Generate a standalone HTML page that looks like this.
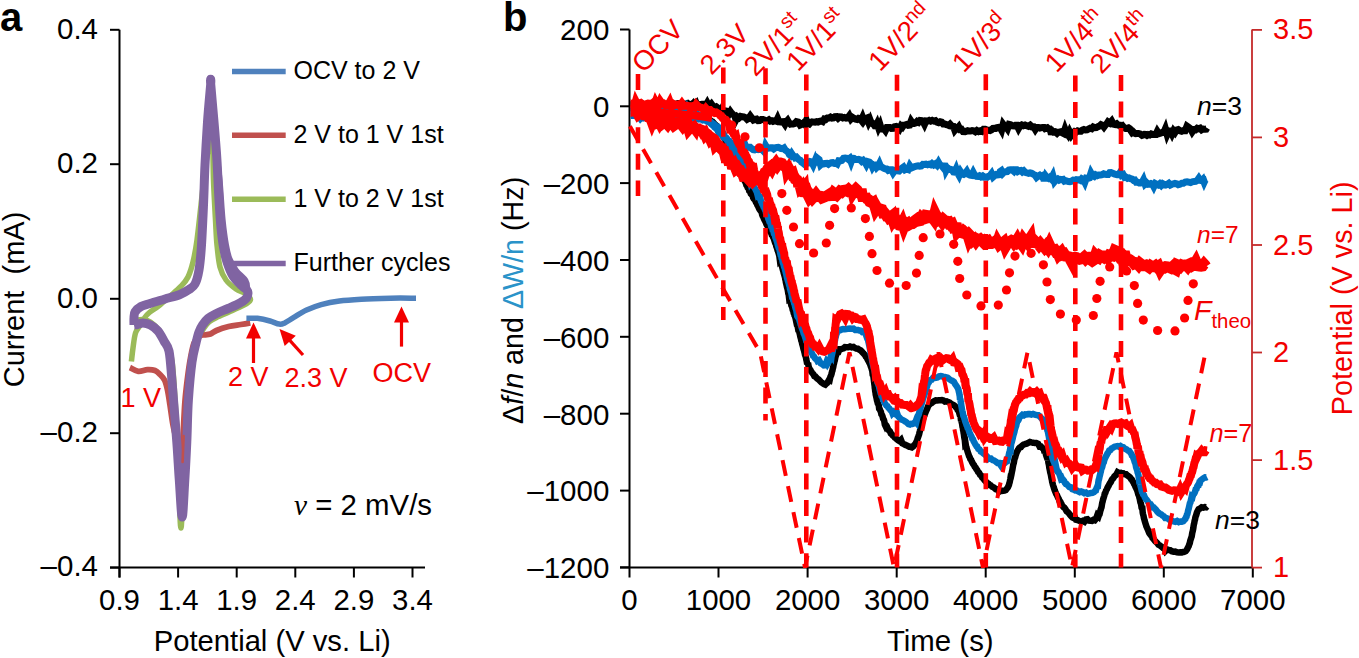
<!DOCTYPE html><html><head><meta charset="utf-8"><style>html,body{margin:0;padding:0;background:#fff;overflow:hidden}svg{display:block}</style></head><body>
<svg width="1359" height="658" viewBox="0 0 1359 658" font-family="'Liberation Sans', sans-serif">
<rect width="100%" height="100%" fill="#fff"/>
<text x="0" y="31" font-size="40" font-weight="bold">a</text>
<g stroke="#000" stroke-width="2" fill="none">
<path d="M119.5 29.8V577.5"/>
<path d="M110 567.6H425"/>
<path d="M110 29.8H119.5"/>
<path d="M110 164.2H119.5"/>
<path d="M110 298.8H119.5"/>
<path d="M110 433.2H119.5"/>
<path d="M110 567.6H119.5"/>
<path d="M119.5 567.6V577.5"/>
<path d="M178.1 567.6V577.5"/>
<path d="M236.7 567.6V577.5"/>
<path d="M295.3 567.6V577.5"/>
<path d="M353.9 567.6V577.5"/>
<path d="M412.5 567.6V577.5"/>
</g>
<g font-size="29.5" text-anchor="end">
<text x="98" y="38.6">0.4</text>
<text x="98" y="173">0.2</text>
<text x="98" y="307.6">0.0</text>
<text x="98" y="442">–0.2</text>
<text x="98" y="576.4">–0.4</text>
</g>
<g font-size="29.4" text-anchor="middle">
<text x="119.5" y="609.5">0.9</text>
<text x="178.1" y="609.5">1.4</text>
<text x="236.7" y="609.5">1.9</text>
<text x="295.3" y="609.5">2.4</text>
<text x="353.9" y="609.5">2.9</text>
<text x="412.5" y="609.5">3.4</text>
</g>
<text x="272.2" y="651.3" font-size="29.2" text-anchor="middle">Potential (V vs. Li)</text>
<text transform="translate(24,299.5) rotate(-90)" font-size="29" text-anchor="middle" style="white-space:pre">Current  (mA)</text>
<g fill="none" stroke-linejoin="round" stroke-linecap="butt">
<path d="M131.4 361.5C131.7 359.2 132.3 352.8 133 348C133.7 343.2 134.3 336.8 135.5 333C136.7 329.2 138.4 328.1 140 325.5C141.6 322.9 143.2 319.7 144.8 317.5C146.4 315.3 147.1 314.4 149.4 312.5C151.7 310.6 155 308.8 158.5 306C162 303.2 166.5 299.2 170.2 296C173.9 292.8 177.8 289.7 180.8 286.5C183.8 283.3 186 281.1 188 277C190 272.9 191.5 268.2 193 262C194.5 255.8 195.7 249.5 197 240C198.3 230.5 199.7 216.7 201 205C202.3 193.3 203.8 179.5 205 170C206.2 160.5 207.4 153.2 208.5 148C209.6 142.8 210.8 138.7 211.5 139C212.2 139.3 212.5 143.2 212.8 150C213.1 156.8 213.1 168.3 213.5 180C213.9 191.7 214.9 209.2 215.5 220C216.1 230.8 216.2 237.2 217 245C217.8 252.8 218.5 261.2 220 267C221.5 272.8 223.3 276.3 226 280C228.7 283.7 232.7 286.7 236 289C239.3 291.3 243.6 292.2 246 294C248.4 295.8 250.5 297.8 250.5 299.5C250.5 301.2 247.8 302.8 246 304C244.2 305.2 243 305.6 240 307C237 308.4 231.9 310.8 228 312.5C224.1 314.2 219.7 315.9 216.5 317.5C213.3 319.1 211.1 320.2 209 322C206.9 323.8 205.5 325.8 204 328C202.5 330.2 201.2 332.5 200 335C198.8 337.5 197.8 338.5 196.5 343C195.2 347.5 193.4 350 192 362C190.6 374 189.2 397 188 415C186.8 433 185.5 453.2 184.5 470C183.5 486.8 182.6 506.3 182 516C181.4 525.7 181.3 528 181 528C180.7 528 180.3 525.7 180 516C179.7 506.3 179.7 486.8 179 470C178.3 453.2 177.1 432.5 176 415C174.9 397.5 173.7 375.8 172.5 365C171.3 354.2 170.4 354.3 169 350C167.6 345.7 165.8 342.5 164 339C162.2 335.5 160.3 331.8 158 329C155.7 326.2 152.9 323.6 150.4 322C147.9 320.4 145.3 319.8 142.8 319.5C140.3 319.2 136.5 320.3 135.2 320.5" stroke="#9BBB59" stroke-width="5.5"/>
<path d="M250.3 322.8C248.7 323.1 244.4 323.9 240.8 324.5C237.2 325.1 232.7 325.5 228.6 326.5C224.5 327.5 219.5 329.2 216.5 330.5C213.5 331.8 212.6 333.2 210.4 334C208.2 334.8 204.9 334.7 203.1 335C201.3 335.3 201 334.7 199.5 336C198 337.3 195.5 339.3 194 343C192.5 346.7 191.6 352.2 190.5 358C189.4 363.8 188.4 370.8 187.5 378C186.6 385.2 185.7 392.3 185 401C184.3 409.7 183.8 421.8 183.4 430C183 438.2 182.6 445.2 182.3 450C182 454.8 182 458.7 181.5 459C181 459.3 180.3 455.2 179.5 452C178.7 448.8 177.6 444.5 176.5 440C175.4 435.5 174.1 430.8 173 425C171.9 419.2 170.9 410.8 170 405C169.1 399.2 168.4 394.2 167.5 390C166.6 385.8 165.8 382.6 164.5 380C163.2 377.4 161.6 376.1 160 374.5C158.4 372.9 157.1 371.3 155 370.5C152.9 369.7 150.2 369.6 147.4 369.7C144.6 369.8 141.2 371.7 138.3 371.3C135.4 370.9 131.3 368.1 129.9 367.5" stroke="#C0504D" stroke-width="5.8"/>
<path d="M134 325C134 323.8 133.8 320.2 134 318C134.2 315.8 133.8 313.9 135 312C136.2 310.1 138.5 307.9 141 306.5C143.5 305.1 146 304.8 150 303.5C154 302.2 160 300.5 165 299C170 297.5 176 296.1 180 294.5C184 292.9 186.5 291.2 189 289.5C191.5 287.8 193.3 287.2 195 284C196.7 280.8 197.9 276.5 199 270C200.1 263.5 200.8 255.8 201.5 245C202.2 234.2 202.9 218.3 203.5 205C204.1 191.7 204.3 178.8 205 165C205.7 151.2 206.6 135.5 207.5 122C208.4 108.5 210.2 90.3 210.7 84C211.2 77.7 210.1 77.7 210.7 84C211.2 90.3 212.9 109.2 214 122C215.1 134.8 216.2 148 217 161C217.8 174 218.3 188.8 219 200C219.7 211.2 220.2 220.2 221 228C221.8 235.8 222.5 241.3 223.5 247C224.5 252.7 225.4 257.2 227 262C228.6 266.8 230.5 272 233 276C235.5 280 239.6 283.5 242 286C244.4 288.5 246.8 289 247.5 291C248.2 293 247.8 296 246.5 298C245.2 300 243.1 301.2 240 303C236.9 304.8 231.9 306.8 228 308.5C224.1 310.2 219.8 311.8 216.5 313.5C213.2 315.2 210.3 316.6 208 318.5C205.7 320.4 204 322.8 202.5 325C201 327.2 200.1 329 199 332C197.9 335 197.2 338 196 343C194.8 348 193.3 352.5 192 362C190.7 371.5 189.3 386.7 188.4 400C187.5 413.3 187.4 428.7 186.8 442C186.2 455.3 185.6 467.5 184.8 480C184 492.5 183.1 517 182.2 517C181.3 517 180.2 492.5 179.3 480C178.4 467.5 177.8 455.3 176.8 442C175.8 428.7 174.4 411.2 173.5 400C172.6 388.8 172.2 383.2 171.5 375C170.8 366.8 170.2 356.7 169 351C167.8 345.3 165.8 344.3 164 341C162.2 337.7 160.3 333.7 158 331C155.7 328.3 152.9 326.3 150.4 325C147.9 323.7 145.2 323.1 143 323C140.8 322.9 139 324.2 137.5 324.5C136 324.8 134.6 324.9 134 325" stroke="#8064A2" stroke-width="9"/>
<path d="M216 150C216.6 155 218.5 168.4 219.6 180C220.7 191.6 221.5 208.7 222.6 219.5C223.7 230.3 224.8 238.4 226 245C227.2 251.6 227.8 254.8 229.5 259C231.2 263.2 233.3 266.9 236 270.5C238.7 274.1 243.6 277.4 245.5 280.5C247.4 283.6 247 287.6 247.3 289" stroke="#8064A2" stroke-width="6"/>
<path d="M246.4 318.3C248.2 318.3 253.5 317.9 257.4 318.3C261.3 318.8 266.4 320 270 321C273.6 322 276.9 323.8 279.3 324.1C281.8 324.4 282.3 324 284.7 322.9C287.1 321.8 290.1 319.5 293.8 317.4C297.5 315.2 302 312.1 306.6 310C311.2 307.9 315.7 306.1 321.2 304.6C326.7 303.1 332.7 301.9 339.4 301C346.1 300.1 352.8 299.7 361.3 299.2C369.8 298.7 381.4 298.4 390.5 298.2C399.6 298 411.8 298.2 416 298.2" stroke="#4F81BD" stroke-width="5.5"/>
<path d="M183.6 436 L182.6 462" stroke="#C0504D" stroke-width="2.6" stroke-linecap="round"/>
</g>
<g stroke-width="5.5">
<path d="M232 71.4H285.7" stroke="#4F81BD"/>
<path d="M232 135.2H285.7" stroke="#C0504D"/>
<path d="M232 199.3H285.7" stroke="#9BBB59"/>
<path d="M232 263.6H285.7" stroke="#8064A2"/>
</g>
<g font-size="25">
<text x="293.5" y="79">OCV to 2 V</text>
<text x="293.5" y="142.8">2 V to 1 V 1st</text>
<text x="293.5" y="206.9">1 V to 2 V 1st</text>
<text x="293.5" y="271.2">Further cycles</text>
</g>
<path d="M253.5 363L253.5 336.5" stroke="#f20000" stroke-width="3.2"/><path d="M253.5 322.5L261 338.5L246 338.5Z" fill="#f20000"/>
<path d="M303 355L288.9 339.4" stroke="#f20000" stroke-width="3.2"/><path d="M279.5 329L295.8 335.8L284.7 345.9Z" fill="#f20000"/>
<path d="M401.5 346.6L401.5 320.5" stroke="#f20000" stroke-width="3.2"/><path d="M401.5 306.5L409 322.5L394 322.5Z" fill="#f20000"/>
<g fill="#f20000" font-size="27">
<text x="120.5" y="407.3">1 V</text>
<text x="228" y="385.6">2 V</text>
<text x="284.5" y="386.5">2.3 V</text>
<text x="372.5" y="381.5">OCV</text>
</g>
<text x="294" y="515" font-size="29.4"><tspan font-family="'Liberation Serif', serif" font-style="italic">ν</tspan> = 2 mV/s</text>
<text x="503" y="30.8" font-size="40" font-weight="bold">b</text>
<g stroke="#000" stroke-width="2" fill="none">
<path d="M629.5 29.5V567.6"/>
<path d="M620 567.6H1252"/>
<path d="M620 29.5H629.5"/>
<path d="M620 106.3H629.5"/>
<path d="M620 183.1H629.5"/>
<path d="M620 260H629.5"/>
<path d="M620 336.8H629.5"/>
<path d="M620 413.7H629.5"/>
<path d="M620 490.6H629.5"/>
<path d="M620 567.4H629.5"/>
<path d="M629.5 567.6V577.5"/>
<path d="M718.5 567.6V577.5"/>
<path d="M807.6 567.6V577.5"/>
<path d="M896.7 567.6V577.5"/>
<path d="M985.7 567.6V577.5"/>
<path d="M1074.8 567.6V577.5"/>
<path d="M1163.8 567.6V577.5"/>
<path d="M1252.8 567.6V577.5"/>
</g>
<g stroke="#c42a2a" stroke-width="1.8" fill="none">
<path d="M1252 29.5V567.6"/>
<path d="M1252 567.6H1262"/>
<path d="M1252 460.1H1262"/>
<path d="M1252 352.5H1262"/>
<path d="M1252 245H1262"/>
<path d="M1252 137.4H1262"/>
<path d="M1252 29.9H1262"/>
</g>
<g font-size="29.5" text-anchor="end">
<text x="609.3" y="40.2">200</text>
<text x="609.3" y="117.1">0</text>
<text x="609.3" y="193.9">–200</text>
<text x="609.3" y="270.8">–400</text>
<text x="609.3" y="347.6">–600</text>
<text x="609.3" y="424.5">–800</text>
<text x="609.3" y="501.4">–1000</text>
<text x="609.3" y="578.2">–1200</text>
</g>
<g font-size="29.4" text-anchor="middle">
<text x="629.5" y="609.8">0</text>
<text x="718.5" y="609.8">1000</text>
<text x="807.6" y="609.8">2000</text>
<text x="896.7" y="609.8">3000</text>
<text x="985.7" y="609.8">4000</text>
<text x="1074.8" y="609.8">5000</text>
<text x="1163.8" y="609.8">6000</text>
<text x="1252.8" y="609.8">7000</text>
</g>
<g font-size="29" fill="#f20000">
<text x="1273" y="577.1">1</text>
<text x="1273" y="469.6">1.5</text>
<text x="1273" y="362">2</text>
<text x="1273" y="254.5">2.5</text>
<text x="1273" y="146.9">3</text>
<text x="1273" y="39.4">3.5</text>
</g>
<text x="940.3" y="651" font-size="29.4" text-anchor="middle">Time (s)</text>
<text transform="translate(1352,298.3) rotate(-90)" font-size="28.8" fill="#f20000" text-anchor="middle">Potential (V vs. Li)</text>
<text transform="translate(523,300.4) rotate(-90)" font-size="28.7" text-anchor="middle">Δ<tspan font-style="italic">f</tspan>/<tspan font-style="italic">n</tspan> and <tspan fill="#2a93c9">ΔW/n</tspan> (Hz)</text>
<defs><clipPath id="cb"><rect x="630.5" y="0" width="640" height="567"/></clipPath></defs>
<g fill="none" stroke-linejoin="miter" stroke-miterlimit="3" clip-path="url(#cb)">
<path d="M630 107.8 L630.8 108.2 L631.7 108.1 L632.8 107.6 L633.9 107.7 L635.1 107.7 L636.5 108.1 L637.8 107.8 L639.3 108.4 L640.8 108.4 L642.4 107.2 L644.1 108 L645.8 108.2 L647.5 108.1 L649.3 108.6 L651 108.6 L652.8 108.2 L654.7 108.8 L656.5 108.5 L658.3 108.7 L660.1 109.1 L661.9 108.6 L663.7 109 L665.5 109.3 L667.2 109.6 L668.9 109.1 L670.5 108.9 L672.1 108.9 L673.6 109.7 L675 109.9 L676.4 109.9 L677.7 109.8 L678.9 110.2 L680 110 L682.5 109.9 L684.8 110.8 L686.8 111.4 L688.5 111.4 L690.1 111.4 L691.5 112.1 L692.8 112.4 L694 113 L695.2 113.8 L696.3 114 L697.5 115 L698.7 115.8 L700 115.8 L701.6 116.5 L703.1 117.6 L704.5 117.4 L705.9 117.9 L707.3 118.9 L708.6 118.9 L709.9 119.9 L711.2 121.3 L712.5 121.7 L713.7 123 L715 124.4 L715.9 125.3 L716.8 125.9 L717.6 126.8 L718.5 128 L719.4 129.5 L720.2 131 L721.1 132.1 L721.9 133.7 L722.8 135.1 L723.6 137.1 L724.4 138.2 L725.1 139.7 L725.9 141.6 L726.6 142.5 L727.3 143.4 L728 144.8 L728.9 146.9 L729.7 147.5 L730.5 149.3 L731.2 152.9 L731.8 152 L732.4 152.5 L733.1 153.7 L733.7 155.3 L734.4 156.5 L735.2 158.6 L736 160.4 L736.5 161.5 L737.1 162.2 L737.7 161.4 L738.2 165.1 L738.8 166.7 L739.4 168.4 L740.1 169.4 L740.7 170.7 L741.3 172.7 L741.9 174.2 L742.6 178.2 L743.2 177 L743.9 179.3 L744.5 180.7 L745.1 181.6 L745.8 183.1 L746.4 185.2 L747 185.9 L747.7 187.7 L748.5 188.6 L749.2 190.8 L750 191.5 L750.8 193.7 L751.5 194.4 L752.3 193.6 L753.1 197.6 L753.8 198.9 L754.6 199.5 L755.3 200.8 L756 202.4 L756.7 203.4 L757.4 205.2 L758 206 L758.8 207.9 L759.5 209.4 L760.2 210.4 L760.9 211.3 L761.5 211.4 L762.1 214.5 L762.7 216 L763.4 217.3 L764 219 L764.6 220.1 L765.3 221.3 L766 223 L766.6 224.5 L767.2 225.5 L767.9 226.8 L768.5 228.2 L769.2 229.3 L769.8 231 L770.5 232.2 L771.2 232.9 L771.8 234.9 L772.5 235.5 L773.1 237.2 L773.8 238.5 L774.4 240.5 L775 242.4 L775.4 243.5 L775.9 244.2 L776.3 246.4 L776.8 247.7 L777.2 248.7 L777.6 250.4 L778.1 251.5 L778.5 252.9 L778.9 254.4 L779.3 255.6 L779.8 259.4 L780.2 258.9 L780.6 260.3 L781 262 L781.4 263.4 L781.8 265.8 L782.2 267.2 L782.6 268.8 L783 270.4 L783.4 271.5 L783.7 273 L784.1 274.3 L784.5 275.7 L784.8 275.1 L785.2 278.8 L785.6 280.3 L785.9 282.3 L786.3 284 L786.6 285.3 L787 287.1 L787.3 288.2 L787.7 289.7 L788 291.5 L788.3 293.4 L788.7 294.6 L789 297.2 L789.3 296.9 L789.7 299.2 L790 299.7 L790.5 302 L791 303.7 L791.4 305.5 L791.9 306.4 L792.3 307.7 L792.7 309.8 L793.2 310.4 L793.6 312.6 L794.1 313 L794.5 315.4 L795 316.1 L795.5 318.1 L796 320.5 L796.4 320.1 L796.7 322.7 L797.1 324.6 L797.5 325.7 L797.9 327.7 L798.3 330 L798.8 330.2 L799.2 331.8 L799.6 333.3 L800 335 L800.4 336.9 L800.9 338.7 L801.3 340.7 L801.7 341.5 L802.1 343.6 L802.5 345.1 L802.9 346.3 L803.2 347.8 L803.6 349.3 L804.1 350.9 L804.6 352.8 L805 354.8 L805.5 356.1 L805.9 357.2 L806.3 359.6 L806.7 361.3 L807.2 364.3 L807.6 363.5 L808 362.7 L808.5 365.8 L809 367.8 L809.5 368.7 L810.4 370 L811.3 371.7 L812.3 373 L813.3 374.2 L814.3 376 L815.4 376.4 L816.4 377.7 L817.4 378.6 L818.7 379.5 L820.1 381.1 L821.5 382.5 L822.8 383.3 L824.1 384.2 L825.3 384.7 L826.2 383.8 L827.1 383.1 L828 381.6 L828.8 380.2 L829.6 380.5 L830.4 376.8 L831.2 375.1 L831.6 373.8 L832 371.6 L832.4 370.7 L832.8 368.7 L833.2 367.2 L833.6 364.9 L834 363.5 L834.4 361.6 L834.8 360.5 L835.2 358.2 L835.6 356.7 L836.1 355 L836.5 353.9 L837 352.9 L838.2 352.4 L839.5 349.3 L840.8 349.3 L842.2 348.8 L843.6 348.3 L845 347.1 L846.6 347.2 L848.3 347.3 L850 346.6 L851.7 347.3 L853.5 347 L854.9 347.9 L856.3 348.5 L857.8 348.7 L859.3 349.8 L860.8 350.5 L862.2 352 L863.6 353.6 L864.4 354.4 L865.1 355.2 L865.9 356.7 L866.7 357.5 L867.4 359.1 L868.1 360.4 L868.8 361.6 L869.5 363.2 L870.2 364.5 L870.8 366.3 L871.4 367.9 L872 370.1 L872.3 371.1 L872.6 373.9 L872.9 374 L873.1 375 L873.4 376.6 L873.6 378 L873.8 379.7 L874 381.5 L874.2 383.1 L874.4 384.5 L874.6 385.8 L874.8 388 L875 389.1 L875.2 391.1 L875.5 392.4 L875.7 394.4 L876 395.6 L876.3 397 L876.6 398.3 L877 400.5 L877.4 401.8 L877.8 403.4 L878.3 404.2 L878.8 405.6 L879.3 410.2 L879.8 409.4 L880.3 410.7 L880.9 411.9 L881.4 414.3 L882 415.1 L882.5 416.3 L883.1 418.8 L883.7 419.5 L884.2 420.8 L884.8 424.5 L885.4 425.8 L885.9 425 L886.5 425.7 L887 426.9 L888 429 L888.9 430.3 L889.9 431.3 L890.8 433.4 L891.8 434.2 L892.8 435.5 L893.8 436.1 L894.8 437.5 L895.9 438.2 L897 439.4 L898.2 440.4 L899.6 441.2 L901 439.9 L902.4 443.4 L903.9 444.1 L905.4 444.9 L906.8 445.4 L908.1 446.1 L909.3 446.8 L910.4 446.8 L911.9 447.3 L913.1 446.5 L914.1 445.3 L915 444.4 L916 442.8 L917 440.4 L917.4 439.3 L917.8 437.9 L918.3 436.7 L918.7 435.5 L919.1 434.3 L919.5 432.6 L919.9 431 L920.3 429.1 L920.8 427.8 L921.2 425.5 L921.6 424.3 L922 422.4 L922.4 420.6 L922.9 419.8 L923.3 418 L923.7 417.1 L924.4 415.5 L925.1 413.5 L925.8 411.7 L926.5 410.1 L927.2 408.8 L927.9 406.7 L928.7 405.3 L929.5 404.5 L930.4 403.4 L931.6 403 L932.9 402 L934.3 401.1 L935.8 400.3 L937.3 400.5 L938.9 400.3 L940.5 400.2 L941.9 400 L943.4 400.4 L944.9 401.6 L946.6 401.3 L948.2 402.1 L949.7 402.6 L951.2 403.9 L952.6 404.7 L953.8 405.1 L955 406 L955.9 407.2 L956.8 408 L957.6 409.8 L958.3 410.3 L959 412.1 L959.7 414.6 L960.5 415.1 L960.8 418.4 L961.1 421.2 L961.4 420.1 L961.7 422.3 L962 423 L962.2 424.6 L962.5 426.8 L962.8 427.7 L963.1 430 L963.4 431.1 L963.6 432.8 L963.9 434.5 L964.2 437.1 L964.5 438.7 L964.8 440 L965.1 443.3 L965.5 442.9 L965.8 444.8 L966.1 446.6 L966.5 447.5 L966.8 449.1 L967.2 450.3 L967.8 452.2 L968.4 454 L969.1 456.1 L969.7 457.2 L970.4 459.1 L971.1 459.8 L971.8 461.6 L972.5 462.9 L973.2 464.2 L974 465.1 L974.8 466.9 L975.6 467.6 L976.4 469.1 L977.2 470.1 L978.1 471.9 L979.1 472.8 L980.1 474.8 L981.1 475.5 L982.2 477.6 L983.2 478.3 L984.3 480 L985.4 481.1 L986.4 482.2 L987.5 483.2 L988.6 483.8 L989.6 485.1 L990.6 485.3 L992.2 486.8 L993.9 487.5 L995.6 489 L997.3 489.1 L998.9 491.8 L1000.4 490.6 L1001.8 490.9 L1003 490.7 L1004.6 490.5 L1005.8 490.1 L1006.9 488.6 L1007.9 487.3 L1009 484.7 L1009.3 483.3 L1009.7 482.2 L1010 480.5 L1010.3 479.1 L1010.7 476.6 L1011 476.6 L1011.4 474.7 L1011.7 472.9 L1012 471.6 L1012.4 469.7 L1012.7 467.8 L1013.1 465.5 L1013.4 464.1 L1013.8 462.9 L1014.1 461.2 L1014.5 459 L1014.8 458.3 L1015.2 457.2 L1015.5 456 L1016.4 453.3 L1017.3 451.1 L1018.1 449.9 L1019 448.3 L1019.9 447.4 L1020.9 447.1 L1022 445.7 L1023.4 444.6 L1024.9 444.2 L1026.6 443.7 L1028.2 442.8 L1029.9 442 L1031.5 442.4 L1033.1 442.7 L1034.8 443.1 L1036.4 443 L1038.1 443.7 L1039.6 446.6 L1041 446.5 L1041.8 447.4 L1042.6 448.2 L1043.4 448.8 L1044.1 450.4 L1044.7 453 L1045.4 451.4 L1046 454.7 L1046.7 456.9 L1047.4 458.8 L1047.7 460 L1048.1 458.9 L1048.4 462.7 L1048.7 463.8 L1049 465.4 L1049.3 467.7 L1049.6 469.1 L1049.9 470.5 L1050.2 472.2 L1050.6 473.7 L1050.9 474.9 L1051.2 476.6 L1051.5 478.4 L1051.9 480 L1052.2 482.1 L1052.6 483.4 L1053 485.1 L1053.4 486.2 L1053.8 487.6 L1054.4 489.4 L1055 491.1 L1055.6 492.5 L1056.2 493.9 L1056.9 495 L1057.5 496.5 L1058.2 497.9 L1058.9 499.1 L1059.6 501.2 L1060.3 501.7 L1061.1 503.3 L1061.8 504.6 L1062.6 506 L1063.4 507.1 L1064.4 507.7 L1065.5 509.2 L1066.6 511.3 L1067.7 512 L1068.9 513.3 L1070.1 514.9 L1071.3 516.3 L1072.5 517.5 L1073.6 518 L1074.8 517 L1076 519.7 L1077.6 520.1 L1079.3 520.9 L1081 521.6 L1082.7 520.9 L1084.4 521.8 L1086 519.5 L1087.5 519.2 L1089 520.6 L1090.6 520.7 L1092.1 520.9 L1093.5 519.9 L1094.8 520.3 L1096.1 518.7 L1097.3 515.3 L1098.5 516.4 L1099 514.9 L1099.5 514.4 L1099.9 512.7 L1100.3 511 L1100.7 509.8 L1101.1 508.3 L1101.5 507.3 L1101.8 505.5 L1102.2 503 L1102.6 501.7 L1103 499.9 L1103.4 498.5 L1103.8 497.2 L1104.3 495.7 L1104.8 493.5 L1105.4 492.7 L1106.1 490.4 L1106.9 489.3 L1107.6 487.5 L1108.4 486.1 L1109.2 484.5 L1110 483.1 L1110.8 482.1 L1111.6 480.2 L1112.3 479 L1113.1 478.5 L1113.8 477.4 L1114.4 476.3 L1116.2 474.8 L1117.6 472.2 L1119.1 473 L1120.8 472.9 L1122 473.5 L1123.4 473.3 L1124.8 474.3 L1126.2 474.3 L1127.7 475.6 L1129.1 476.6 L1130.4 477.8 L1131.2 479.2 L1131.9 479.7 L1132.7 481.3 L1133.4 482.3 L1134.1 483.9 L1134.8 485.1 L1135.5 487 L1136.2 488.3 L1136.9 489.7 L1137.6 491.7 L1138.3 494.5 L1138.7 495.4 L1139.1 496.1 L1139.4 497.7 L1139.8 499.1 L1140.2 501.3 L1140.5 502.8 L1140.9 503.6 L1141.3 505.7 L1141.6 507.9 L1142 508.7 L1142.4 508.7 L1142.7 512.5 L1143.1 514.5 L1143.5 515.7 L1143.9 518 L1144.3 519.4 L1144.7 520.9 L1145.1 522.1 L1145.5 523.6 L1145.9 524.7 L1146.3 526.2 L1147 527.7 L1147.8 529.6 L1148.5 531.2 L1149.3 533.2 L1150.1 534.3 L1150.9 535.3 L1151.7 535.6 L1152.5 538 L1153.3 538.8 L1154.2 539.9 L1155.1 541 L1156 541.9 L1157.3 543.1 L1158.5 544.7 L1159.9 545.5 L1161.2 546.5 L1162.6 547.6 L1164 547.5 L1165.5 550.9 L1167 549.4 L1168.6 549.9 L1170.1 550.1 L1171.7 551.2 L1173.5 551.7 L1175.2 551.6 L1177 552.3 L1178.7 552.4 L1180.4 552.3 L1182 552.4 L1183.4 552 L1184.6 551.7 L1185.7 551.2 L1186.7 549.9 L1187.4 548.7 L1188.1 547.2 L1188.7 546.2 L1189.2 544.6 L1189.8 543 L1190.3 540.6 L1191 538.4 L1191.3 537.5 L1191.7 536.5 L1192 534.5 L1192.3 532.7 L1192.7 531.3 L1193 529.8 L1193.3 528.2 L1193.6 526 L1193.9 524.3 L1194.3 522.9 L1194.6 520.8 L1195 519.7 L1195.3 517.7 L1195.7 516.4 L1196.1 515.4 L1196.5 514 L1196.9 512.6 L1197.3 511.5 L1198.6 509.2 L1200.1 508.5 L1201.7 507.2 L1203.3 507.6 L1204.8 507.1 L1206.1 507.3 L1207 506.4" stroke="#000" stroke-width="6.5"/>
<path d="M630 115.1 L630.9 114.8 L632.1 115.7 L633.5 115.5 L635.1 116 L636.8 116.6 L638.6 116.6 L640.3 118.8 L642 117 L643.6 118.1 L645 117.7 L646.7 117.8 L648.1 118.7 L649.3 119 L650.6 119.3 L652 118.7 L653.8 118.4 L656 118.8 L657.2 118.8 L658.4 119.4 L659.8 118.6 L661.2 118.4 L662.7 119 L664.2 119.3 L665.8 119.2 L667.4 118.6 L669.1 118.5 L670.7 119.9 L672.4 118.4 L674 118.6 L675.6 118.2 L677.1 118.3 L678.6 118.2 L680 118.2 L681.7 118.3 L683.3 115.2 L684.9 118.1 L686.5 118.3 L688.1 118 L689.6 117.7 L691.1 117.7 L692.6 118.2 L694.1 117.6 L695.6 117.7 L697.1 118.8 L698.5 119.2 L700 118.4 L701.5 119.5 L702.9 120.3 L704.4 120.1 L705.9 120.8 L707.3 119.4 L708.8 121.9 L710.2 122.7 L711.6 122.4 L713 123.3 L714.3 124.3 L715.6 125.7 L716.8 126.3 L718 126.6 L719 127.7 L720 129 L721 130.7 L721.9 129.6 L722.7 132.9 L723.6 133.5 L724.4 135.7 L725.2 137.2 L726 137.6 L726.7 139.7 L727.5 141.2 L728.3 142.7 L729.2 143.9 L730 144.9 L730.9 146.6 L731.7 147.9 L732.6 148.6 L733.5 150.7 L734.4 151.7 L735.2 152.7 L736.1 154.3 L737 154.9 L737.9 156.9 L738.7 157.9 L739.6 159.5 L740.4 161.6 L741.2 161.2 L742 163.3 L742.8 164.1 L743.5 166.2 L744.3 166.8 L745 169 L745.8 170.4 L746.5 171.6 L747.2 173 L747.9 174.8 L748.6 176.5 L749.3 176.8 L750 179.1 L750.6 182.2 L751.3 181.1 L752 183.3 L752.7 184.5 L753.4 186.3 L754.2 187.2 L754.9 188.3 L755.6 189.6 L756.3 191.2 L757 192.6 L757.7 195.4 L758.3 195 L759 197.2 L759.7 198.3 L760.3 198.1 L761 201.4 L761.6 202.5 L762.3 204.3 L762.9 204.8 L763.5 206.8 L764.1 207.7 L764.8 209.3 L765.4 208.9 L766 212.9 L766.6 214.4 L767.2 214.9 L767.8 216.8 L768.4 219 L769 220.1 L769.5 221.9 L770.1 222.6 L770.6 223.7 L771.1 226.1 L771.7 226.3 L772.2 228.1 L772.7 230.2 L773.3 230.6 L773.8 232.9 L774.3 233 L774.9 235 L775.4 237.5 L775.9 238.7 L776.5 240.3 L777 241.9 L777.4 243.2 L777.8 245 L778.3 246.5 L778.7 247.9 L779.1 248.4 L779.5 249.8 L779.9 251.6 L780.3 253.5 L780.7 255.2 L781.2 255.6 L781.6 258.2 L782 258.8 L782.4 260.5 L782.8 262.5 L783.3 263.7 L783.7 265.2 L784.1 266.8 L784.6 267.9 L785 269.8 L785.4 271.1 L785.8 272.8 L786.2 274 L786.6 276 L787 277.9 L787.5 279.3 L787.9 280.8 L788.3 282 L788.7 283.3 L789.1 285 L789.6 286.3 L790 288.9 L790.4 290 L790.8 291.4 L791.3 292.8 L791.7 295 L792.1 297.3 L792.5 297.5 L792.9 298.4 L793.3 300.5 L793.7 301.1 L794.2 303.4 L794.7 304.6 L795.1 306.6 L795.6 308.4 L796.1 309.3 L796.5 311.4 L797 314.6 L797.5 314.6 L797.9 317 L798.4 317.3 L798.8 318.6 L799.3 319.4 L799.8 321.5 L800.2 322.6 L800.7 324.8 L801.1 325.4 L801.6 327.4 L802.1 328.9 L802.7 330.3 L803.2 331.5 L803.7 333.7 L804.2 334.4 L804.8 336.1 L805.3 337.6 L805.8 339.2 L806.3 341.2 L806.9 342 L807.4 344.2 L807.9 345.7 L808.4 346.6 L809 347.8 L809.5 348.5 L810.4 350.5 L811.3 352.6 L812.1 353.5 L813 355.8 L813.9 356.3 L814.8 358 L815.6 358.8 L816.5 359.3 L817.4 361 L819 360.2 L820.7 363.3 L822.3 364.2 L823.8 365.4 L825.3 365.2 L826.4 362.2 L827.4 364 L828.4 362.4 L829.3 360.9 L830.2 358.6 L831.2 355 L831.6 355.6 L831.9 353.1 L832.3 353.2 L832.6 351.8 L832.9 350 L833.3 348.4 L833.6 346.5 L834 345.3 L834.3 342.8 L834.7 340.8 L835 340.2 L835.4 337.8 L835.8 336.7 L836.2 334.9 L836.6 333.9 L837 332.9 L838.4 330.6 L839.9 330.4 L841.4 329.6 L843.1 329 L845 329.2 L846.5 329.1 L848.2 328.7 L849.9 328.6 L851.7 328.8 L853.5 328.6 L855.3 330 L856.9 330.1 L858.3 330.1 L859.6 330.5 L860.9 330.7 L862.2 332 L863.5 331.7 L864.7 333.2 L865.8 334.3 L866.9 337.4 L867.3 337.4 L867.7 338.7 L868.1 340.2 L868.4 341.7 L868.7 342.9 L869 344.4 L869.4 345.9 L869.7 347.5 L870 347.2 L870.3 350.8 L870.5 351.8 L870.8 354 L871.1 355.1 L871.5 356.9 L871.8 358.4 L872.1 360.5 L872.4 361.9 L872.8 364.2 L873.2 365.3 L873.6 366.8 L874 368.5 L874.3 369.4 L874.7 371.1 L875.1 373.2 L875.5 374 L875.9 374.8 L876.3 378 L876.7 379.1 L877.1 380.8 L877.5 382.6 L878 383.7 L878.4 384.8 L878.8 385 L879.3 388 L879.7 389.8 L880.2 391.5 L880.7 393.4 L881.1 394.1 L881.6 396.1 L882.1 396.9 L882.6 397.7 L883.1 399.8 L883.6 400.3 L884.5 402.5 L885.4 404.1 L886.4 405.6 L887.4 406.1 L888.4 407.8 L889.4 408.5 L890.4 410.1 L891.5 410.7 L892.5 413.3 L893.6 412.2 L894.7 413.7 L895.9 414.4 L897 412.9 L898.3 416.5 L899.7 417.8 L901.1 419.4 L902.6 419.9 L904.1 420.7 L905.6 421.7 L907 422.7 L908.5 424.2 L909.9 424.6 L911.3 423.8 L912.5 424 L913.7 423.5 L914.4 422.8 L915.1 422.8 L915.7 421.2 L916.3 422 L916.9 419.5 L917.5 417.7 L918 415.5 L918.6 414.8 L919.1 413.2 L919.6 410.8 L920.1 409.9 L920.5 408.1 L921 405.8 L921.5 403.9 L921.9 403 L922.4 401.4 L922.8 399.2 L923.3 397.8 L923.7 396.7 L924.4 394.6 L925 393 L925.6 390.8 L926.1 390 L926.6 387.7 L927.1 386.2 L927.6 384.4 L928.2 383.4 L928.8 382.6 L929.6 381 L930.4 379.9 L931.6 379.7 L932.9 378 L934.4 378 L935.9 377.7 L937.5 377.4 L939.1 376.3 L940.7 376.1 L942.3 376.4 L943.8 377.1 L945 377 L946.3 377.4 L947.6 377.8 L949 378.9 L950.3 379.8 L951.6 380.5 L952.8 381.1 L954 382 L955.2 384.2 L956.2 385.5 L957.2 387.1 L957.7 388 L958.1 388.7 L958.5 390.1 L958.9 392 L959.2 393 L959.5 394.9 L959.8 396.5 L960 399.7 L960.3 398.6 L960.6 400.7 L960.8 402.3 L961.1 403.6 L961.3 405.4 L961.6 407 L961.9 408.9 L962.2 410.6 L962.6 411.9 L963 414 L963.4 416 L963.9 416.7 L964.4 418.5 L964.9 420.1 L965.4 422 L966 423.3 L966.5 425 L967.1 426.2 L967.7 428.2 L968.3 428.6 L969 431.1 L969.6 432.8 L970.2 434.1 L970.9 435.4 L971.6 436.8 L972.3 438.8 L973 439.4 L973.6 441.2 L974.4 442.5 L975.1 443.8 L975.8 445 L976.5 446.3 L977.2 446.6 L978.3 448.9 L979.5 449.5 L980.7 451.5 L981.9 452.1 L983.1 453.1 L984.4 454.1 L985.7 455.1 L987 456.4 L988.2 458.9 L989.4 458.2 L990.7 458.3 L991.8 459.5 L992.9 460.1 L994 460.4 L995.8 461.6 L997.5 462.9 L999.1 462.9 L1000.7 465.2 L1002.1 463.2 L1003.5 463.2 L1004.8 463 L1006 461.8 L1006.6 461 L1007.1 461 L1007.6 459.3 L1008.1 457.8 L1008.5 456.3 L1008.9 454.3 L1009.3 452.5 L1009.7 451.6 L1010 450.2 L1010.4 447.6 L1010.8 448 L1011.1 444.2 L1011.5 442.9 L1011.9 441.7 L1012.3 440 L1012.7 438.4 L1013.2 436.1 L1013.6 434.7 L1014 433.3 L1014.4 431.9 L1014.9 429.3 L1015.3 428.4 L1015.7 426.9 L1016.2 425.7 L1016.6 423.7 L1017.1 422.1 L1017.6 420.6 L1018.1 419.6 L1018.7 419.6 L1019.9 416.9 L1021.1 415.9 L1022.4 414.8 L1023.8 415.3 L1025.2 414.4 L1026.7 414.5 L1028.3 414.1 L1029.8 414.1 L1031.4 414.6 L1033.1 414 L1034.8 414.6 L1036.6 415 L1038.2 415.2 L1039.7 416.4 L1041 417.9 L1042 418.9 L1042.8 419.4 L1043.6 419.7 L1044.3 421.5 L1044.9 422.8 L1045.5 424.1 L1046.1 425.7 L1046.7 426.8 L1047.4 430.5 L1047.7 430.9 L1048 432.6 L1048.3 433.7 L1048.5 435.1 L1048.8 436.3 L1049 437.8 L1049.3 439.4 L1049.6 441.5 L1049.8 443.2 L1050.1 444.3 L1050.3 446.4 L1050.6 448.3 L1050.9 449.8 L1051.2 451.6 L1051.5 452.6 L1051.8 454.7 L1052.2 456.8 L1052.5 458.3 L1052.9 459.2 L1053.4 460.7 L1053.8 461.6 L1054.4 463.1 L1055 465.3 L1055.6 464.3 L1056.3 467.8 L1057 470.2 L1057.7 471.8 L1058.5 472.1 L1059.2 473.8 L1060 475.8 L1060.8 478.4 L1061.6 477.8 L1062.4 479.7 L1063.2 479.8 L1064.1 480.9 L1064.9 482.8 L1065.8 484 L1066.6 484.1 L1067.9 485.6 L1069.3 487 L1070.8 487.3 L1072.3 489.1 L1073.8 489.6 L1075.3 490.4 L1076.8 490.4 L1078.3 491.3 L1079.8 492.1 L1081.2 491.5 L1082.5 492 L1084.3 493.2 L1086.1 492.6 L1087.8 493.8 L1089.5 493.4 L1091.1 492.9 L1092.6 492.8 L1094 492.2 L1095.3 490.6 L1095.9 490.4 L1096.5 488.3 L1097 487.4 L1097.4 486.3 L1097.9 486.2 L1098.3 482.5 L1098.7 479.8 L1099 479.3 L1099.4 477.4 L1099.7 476.1 L1100.1 474.6 L1100.4 473.1 L1100.8 471.8 L1101.2 469.5 L1101.6 468.6 L1102.2 467.1 L1102.7 464.8 L1103.3 463 L1103.8 462.4 L1104.3 460.1 L1104.9 458.5 L1105.4 457.6 L1106 456.3 L1106.6 455.2 L1107.3 453.6 L1108 452.9 L1109.2 450.5 L1110.4 450 L1111.7 448.3 L1113.1 447.7 L1114.5 446.7 L1116 446.4 L1117.6 446.1 L1118.9 446.7 L1120.4 446 L1121.9 447 L1123.4 447.3 L1125 448.8 L1126.5 449.4 L1127.9 450.6 L1129.2 450.9 L1130.4 452.6 L1131.2 453.7 L1131.9 455.6 L1132.6 456 L1133.2 457.4 L1133.7 458.9 L1134.2 460.2 L1134.7 462 L1135.2 463 L1135.6 464.5 L1136.1 467.1 L1136.7 469 L1137.1 469.6 L1137.4 471.3 L1137.7 472.8 L1138.1 473.5 L1138.4 475 L1138.7 477 L1139 478.9 L1139.3 482.3 L1139.7 484.1 L1140 483.1 L1140.4 485.4 L1140.7 486.7 L1141.2 488.3 L1141.6 490.4 L1142.1 492 L1142.6 492.4 L1143.1 494.4 L1143.9 495 L1144.7 497.2 L1145.6 498.7 L1146.5 499.6 L1147.4 500.8 L1148.4 502.4 L1149.4 503.9 L1150.5 504.2 L1151.5 505.6 L1152.6 507.4 L1153.7 507.5 L1154.8 508.6 L1155.9 509.7 L1157.1 511.4 L1158.4 512.7 L1159.7 513.7 L1161.1 514.3 L1162.5 515.5 L1163.8 516.2 L1165.2 518 L1166.6 518.1 L1168 518.7 L1169.3 519.4 L1170.6 521 L1171.8 520.8 L1173.6 521.4 L1175.4 521.8 L1177.1 521 L1178.8 522.1 L1180.4 521.5 L1181.9 521.6 L1183.3 521.2 L1184.6 519.6 L1185.3 519 L1185.9 517.3 L1186.5 516.7 L1186.9 514.7 L1187.4 513.9 L1187.8 512.1 L1188.2 510.2 L1188.6 509 L1189 507.3 L1189.4 505.5 L1189.9 503.1 L1190.4 502.5 L1191 499.8 L1191.6 501 L1192.2 497.8 L1192.9 495.6 L1193.6 494 L1194.3 493.5 L1195 491.9 L1195.7 489.3 L1196.5 488.8 L1197.2 486.4 L1197.9 485.3 L1198.6 485.2 L1199.3 482.7 L1199.9 482.7 L1200.5 480.6 L1202.1 479.3 L1203.6 478.1 L1205 477.3 L1206.2 477.4 L1207 477" stroke="#0070C0" stroke-width="6.5"/>
<path d="M630 106.4 L630.8 104.6 L631.8 104.4 L632.9 106.3 L634.1 104.4 L635.4 106.1 L636.8 107.5 L638.2 105.2 L639.8 105.9 L641.4 105.3 L643 104.4 L644.8 105.7 L646.5 104.4 L648.3 103.8 L650.1 103.5 L651.9 105.2 L653.7 104.5 L655.5 103.7 L657.2 103.4 L659 104.7 L660.7 103.2 L662.4 103.7 L664 104.1 L665.5 107.6 L667 104.1 L668.5 103.4 L670.1 104.4 L671.7 104.3 L673.3 104 L674.9 104.3 L676.5 104.2 L678.1 103.4 L679.8 103.4 L681.4 103.9 L683 104 L684.6 106.1 L686.2 104 L687.7 103.5 L689.3 104.7 L690.8 104.4 L692.2 104.9 L693.6 103.3 L695 104.9 L696.3 103.5 L697.6 106.8 L698.8 104.5 L700 104.8 L702.1 104.3 L704 104.1 L705.8 105.5 L707.3 102.9 L708.8 105.6 L710.1 105.5 L711.4 104.1 L712.7 105.9 L713.9 106.4 L715.2 108 L716.6 107.1 L718 108.1 L719.4 110.5 L720.8 111.2 L722.1 108.7 L723.5 111.2 L724.9 111.2 L726.3 111.1 L727.6 111.6 L729 114 L730.4 111.6 L731.8 113.5 L733.2 114.7 L734.6 115.5 L736 119.9 L737.6 116.9 L739.1 117.9 L740.7 116.4 L742.3 116.8 L743.9 116.9 L745.5 117.6 L747.1 119.3 L748.7 118.3 L750.3 116 L751.9 118.1 L753.4 120 L755 119.4 L756.6 119.1 L758.1 120.6 L759.7 120.5 L761.3 119.4 L762.9 119.4 L764.4 120 L766 121.4 L767.5 120.7 L768.9 119.8 L770.4 121.1 L771.7 120.7 L773 121.4 L774.7 120.7 L776.3 121.2 L777.6 118.5 L778.9 121.5 L780.3 121.9 L781.6 121.8 L783.2 121.7 L785 124.4 L786.3 121.8 L787.6 120.4 L789 122.8 L790.4 124.1 L791.8 123.7 L793.3 123.9 L794.9 123.4 L796.5 121.6 L798.2 122 L800.1 125 L802 124.2 L804 122.5 L805.2 124.3 L806.5 120.4 L807.8 123.4 L809.2 124 L810.6 122.4 L812 121.9 L813.5 122.1 L815 122.2 L816.5 121.7 L818 122 L819.6 121.4 L821.2 120.9 L822.7 121.6 L824.3 119 L825.9 119.4 L827.4 118 L829 118 L830.5 117.1 L832 118.1 L833.5 117.9 L835 116.6 L836.5 116.5 L838.1 118.2 L839.7 116.8 L841.3 117 L842.9 118 L844.5 117.5 L846.2 118.2 L847.8 117.9 L849.4 115.7 L851 119 L852.6 117.4 L854.1 118.4 L855.6 119.2 L857.1 119.5 L858.6 118.3 L860 118.6 L861.3 120.3 L862.6 117.4 L863.8 120.6 L865 118.8 L866.9 118.1 L868.6 122.5 L870 119.8 L871.3 123.3 L872.5 123.3 L873.6 124.3 L874.7 125.8 L875.9 125.9 L877.1 123.5 L878.5 127.7 L880 124.6 L881.3 128.8 L882.7 128.7 L884 128.9 L885.4 130.7 L886.9 127.5 L888.4 127.5 L889.9 127.5 L891.4 128.5 L893 128.4 L894.5 126.7 L896.1 126.5 L897.7 127.6 L899.4 129.2 L901 125.9 L902.4 127.1 L903.8 125 L905.2 124.9 L906.6 124.5 L908.1 125.3 L909.6 125.1 L911.1 121.1 L912.6 123.3 L914.1 123.5 L915.6 122.9 L917.1 121.4 L918.6 122.3 L920.1 120.5 L921.6 120.7 L923.1 121.7 L924.5 124.4 L926 121 L927.5 121.1 L929.1 120.4 L930.7 121.2 L932.3 120.4 L933.9 121.1 L935.5 120.6 L937.1 122.2 L938.6 122.7 L940.2 121.8 L941.7 122.2 L943.2 123.9 L944.7 123.9 L946.1 124.5 L947.4 124.7 L948.7 125.3 L950 124.2 L951.8 126.2 L953.4 126.4 L954.8 130.3 L956.2 128.6 L957.4 128.3 L958.7 126.8 L960 129.5 L961.5 129.3 L963.1 131.7 L965 131.8 L966.3 131.2 L967.7 130.6 L969.1 131 L970.6 131 L972.1 130.5 L973.7 130.8 L975.3 131.8 L976.9 130.5 L978.6 131.5 L980.3 130.8 L981.9 131.4 L983.6 129.3 L985.2 129.3 L986.9 130 L988.4 130.2 L990 130.5 L991.5 129.8 L993 128.3 L994.5 128.2 L995.9 128.4 L997.3 127.6 L998.8 127.3 L1000.2 127.7 L1001.6 130.2 L1003.1 124.3 L1004.5 126.2 L1006 126.7 L1007.5 128.8 L1009.1 124.4 L1010.7 124.8 L1012.3 125.9 L1014 126 L1015.4 125.2 L1016.9 125.2 L1018.5 128.5 L1020.1 125.7 L1021.7 124.9 L1023.4 125.7 L1025.1 125 L1026.8 125.7 L1028.5 126.3 L1030.2 125.2 L1032 126.9 L1033.6 126.8 L1035.3 129.6 L1036.9 127.3 L1038.4 127.4 L1039.9 128 L1041.3 127.6 L1042.6 127.4 L1043.9 127.5 L1045 128.6 L1047.3 127.8 L1049.1 129.4 L1050.4 129.7 L1051.4 134.4 L1052.5 131.1 L1053.6 132.1 L1055.1 131.8 L1057 133.3 L1058.2 132.2 L1059.4 132.2 L1060.7 131.8 L1062.1 132.8 L1063.5 133.5 L1065 129 L1066.5 132.9 L1068.1 135.1 L1069.6 131.7 L1071.3 135.2 L1072.9 133 L1074.5 131.6 L1076.1 132.3 L1077.8 130.9 L1079.4 131.3 L1081 131.3 L1082.4 130 L1083.9 129.5 L1085.4 130 L1087 129.9 L1088.5 129 L1090.1 128.2 L1091.7 128.7 L1093.2 127 L1094.8 127.7 L1096.4 127.5 L1097.9 126.7 L1099.5 126 L1101 124.6 L1102.5 125.3 L1103.9 127 L1105.3 125.1 L1106.7 123.8 L1108 121.8 L1109.9 123.1 L1111.7 121.1 L1113.4 124.2 L1115.1 124.6 L1116.7 123.8 L1118.2 125.1 L1119.8 125.2 L1121.3 127 L1122.7 126 L1124.2 127.7 L1125.6 128.5 L1127 128.4 L1128.5 127.9 L1129.8 128.8 L1131 130.9 L1132.1 132.6 L1133.2 131.8 L1134.4 133.1 L1135.6 133.7 L1136.9 133.5 L1138.4 133.5 L1140.1 134 L1142 135.4 L1143.2 135 L1144.4 134.4 L1145.6 134.5 L1147 135.4 L1148.3 134.6 L1149.7 135 L1151.2 133.9 L1152.7 134.5 L1154.2 134.4 L1155.8 134.4 L1157.3 131.3 L1158.9 133.7 L1160.5 133.2 L1162.2 132.5 L1163.8 132.3 L1165.4 128.6 L1167.1 134.6 L1168.7 131.1 L1170.4 130.9 L1172 134.1 L1173.5 130.8 L1175 132.6 L1176.6 130 L1178.2 129.5 L1179.9 130.7 L1181.7 131.2 L1183.4 130.5 L1185.2 130.6 L1187 126.1 L1188.7 127.2 L1190.5 128.7 L1192.2 131.9 L1193.9 129.5 L1195.6 129.8 L1197.2 128.2 L1198.8 128.8 L1200.2 128.2 L1201.6 129.8 L1202.9 129 L1204.1 129.2 L1205.2 129.2 L1206.2 129.1 L1207 127.9" stroke="#000" stroke-width="7"/>
<path d="M630 110.7 L630.8 110.4 L631.8 110.7 L632.9 109.2 L634.1 109.7 L635.4 110.5 L636.8 108.9 L638.3 110.4 L639.8 110.3 L641.5 109.3 L643.1 111 L644.8 109.3 L646.6 109.2 L648.3 110.6 L650.1 110.6 L651.8 106 L653.5 107.4 L655.2 109.2 L656.9 109.1 L658.5 110.7 L660 109 L661.5 110.2 L663.1 110.2 L664.7 110.5 L666.3 112.1 L668 110.9 L669.6 110.1 L671.3 110.9 L673 110.4 L674.6 111.7 L676.2 112.3 L677.9 110.7 L679.4 108.8 L681 114.8 L682.5 111.7 L683.9 112.2 L685.3 112.1 L686.6 109.1 L687.8 112.6 L689 113.1 L690 113.8 L692.8 113.9 L694.9 114.2 L696.3 112.8 L697.5 114.7 L698.6 115.1 L700 115.9 L701.3 116.1 L702.6 116.2 L703.9 119.2 L705.2 119.5 L706.5 119.7 L707.7 121.4 L709 121.7 L710.1 122.1 L711.2 123.8 L712.4 124.9 L713.5 125.4 L714.6 127 L715.8 127.9 L716.9 128.9 L718 130.9 L719.1 133.3 L720.2 133.4 L721.4 134.6 L722.5 135.5 L723.6 137.2 L724.8 137.1 L725.9 138.6 L727 139 L728.3 141.5 L729.5 141.4 L730.8 143.4 L732.1 144.5 L733.4 144.3 L734.7 144.5 L736 145.4 L737.6 147.3 L739.1 146.6 L740.7 146.6 L742.3 143.2 L744.1 142.4 L746 146.8 L747.3 147.5 L748.7 147.1 L750.1 147.2 L751.6 148.6 L753.1 149.6 L754.7 149.9 L756.3 149.2 L758.1 149.6 L760 149.2 L761.3 149.7 L762.7 150.1 L764.2 151.8 L765.7 145.6 L767.3 148.3 L768.9 148 L770.5 147.7 L772.1 147.8 L773.7 148.9 L775.3 147.8 L776.8 147.4 L778.3 147.3 L779.7 147.9 L781 148.6 L782.6 148.7 L784 147.9 L785.5 150.3 L786.8 151.1 L788.1 152.2 L789.4 154.6 L790.6 155.5 L791.7 153.6 L792.9 155.4 L793.9 156.2 L795 157.8 L796.5 157.2 L797.9 158.7 L799.1 159.7 L800.3 160.2 L801.4 161.9 L802.7 162.8 L804 163.9 L805.4 162.3 L806.9 162.1 L808.4 162.7 L809.9 161.5 L811.5 161.8 L813.2 165 L815 160.7 L816.3 164.8 L817.7 158.4 L819.1 159.5 L820.6 164.9 L822.1 163.6 L823.7 163.9 L825.2 163.5 L826.8 163.3 L828.4 164.3 L830 163.2 L831.4 162.8 L832.9 162.6 L834.3 163.3 L835.7 163 L837.2 163.9 L838.7 160.7 L840.2 160.9 L841.8 160.4 L843.5 158.3 L845.2 158 L847 158.3 L848.3 159.3 L849.7 158.3 L851.1 162 L852.5 158.2 L854 158.3 L855.5 159.5 L857 159.6 L858.6 159.4 L860.1 159.8 L861.7 161.4 L863.3 160.3 L864.8 161.9 L866.4 164.8 L868 161.7 L869.5 162.1 L871 163.5 L872.5 167.2 L873.9 165 L875.3 164.9 L876.7 167.5 L878.1 166.2 L879.4 163.6 L880.8 166.9 L882.2 167.2 L883.6 168.1 L885 168.7 L886.5 168.8 L888.1 170.4 L889.7 169.7 L891.4 169.7 L893.1 172.9 L895 170.2 L896.3 170.4 L897.7 170.9 L899.1 171.1 L900.5 169.7 L902 168.1 L903.5 167 L905.1 169.7 L906.6 168.9 L908.2 169.5 L909.8 165.6 L911.5 168 L913.1 167.3 L914.8 166.6 L916.4 166.2 L918.1 165.8 L919.7 166.2 L921.3 166 L922.9 164.4 L924.5 164.5 L926.1 164.1 L927.6 164.7 L929.1 164.2 L930.6 164.7 L932 163.5 L933.7 164.9 L935.3 163.8 L936.9 165.2 L938.5 162.3 L940 164.9 L941.6 165.6 L943.1 167.5 L944.6 163.4 L946.1 170.7 L947.6 168.1 L949 169.5 L950.5 169.3 L951.9 169.8 L953.4 171.9 L954.8 172.1 L956.2 168.9 L957.7 173.1 L959.1 175.6 L960.6 171.8 L962 174 L963.6 174.5 L965.2 173.4 L966.8 171.3 L968.4 174.3 L970 175.1 L971.6 175.4 L973.2 172.3 L974.8 175.3 L976.4 176.3 L977.9 176.5 L979.5 175.8 L981 176.8 L982.6 175.9 L984.1 177.2 L985.6 177.1 L987.1 177.3 L988.5 176.3 L990 175.7 L991.6 173.6 L993.1 177 L994.6 175.7 L996 174.6 L997.4 175 L998.7 174.8 L1000.1 171.5 L1001.4 170.6 L1002.8 173.4 L1004.2 172 L1005.7 171.8 L1007.2 171.7 L1008.8 170 L1010.4 169.8 L1012.2 169.8 L1014 171.4 L1015.3 169.7 L1016.6 169.7 L1017.9 171.5 L1019.3 170.7 L1020.8 170.5 L1022.3 171.9 L1023.8 170.8 L1025.3 172.4 L1026.9 172.8 L1028.5 173.4 L1030.1 172.9 L1031.7 173.3 L1033.3 174.3 L1034.9 175.1 L1036.5 177.4 L1038.1 176 L1039.7 175.1 L1041.2 176.3 L1042.7 175.5 L1044.2 180.7 L1045.7 176 L1047.1 177.9 L1048.4 178.5 L1049.7 177.4 L1051 178.7 L1052.8 175.4 L1054.5 181.6 L1056.1 179.7 L1057.6 178.9 L1059.1 180.1 L1060.4 179.4 L1061.8 179.7 L1063.1 179.4 L1064.4 181.1 L1065.7 180.7 L1067.1 181.1 L1068.5 181.5 L1069.9 181.7 L1071.5 181.2 L1073.2 180.1 L1075 180.3 L1076.3 179.6 L1077.6 179.9 L1079 179.7 L1080.4 180.4 L1081.8 178.7 L1083.3 179.5 L1084.8 182.4 L1086.3 178.2 L1087.8 178.4 L1089.4 177.9 L1091 172.9 L1092.6 175.7 L1094.2 176.5 L1095.7 174.9 L1097.3 175.7 L1098.9 175 L1100.5 175 L1102.1 174.6 L1103.6 173.8 L1105.2 174.4 L1106.7 174.6 L1108.1 174.6 L1109.6 172.7 L1111 172.6 L1112.6 173.2 L1114.2 174 L1115.7 174.4 L1117.2 174.8 L1118.7 174.7 L1120.3 172.2 L1121.7 175.3 L1123.2 174.6 L1124.7 177.5 L1126.1 177.2 L1127.6 178.3 L1129 177.9 L1130.5 178.7 L1131.9 179 L1133.4 180.2 L1134.8 180 L1136.2 182.2 L1137.7 182.2 L1139.1 182.9 L1140.6 182.9 L1142 182.4 L1143.5 179.7 L1145 184.1 L1146.5 182.7 L1148 184.2 L1149.5 184 L1150.9 183.5 L1152.4 184.1 L1153.8 186.7 L1155.3 183.6 L1156.8 184.4 L1158.2 185 L1159.7 183.8 L1161.2 185.4 L1162.7 183.7 L1164.2 184.6 L1165.7 185.1 L1167.2 184.4 L1168.8 183.3 L1170.4 185 L1172 184.3 L1173.5 183.8 L1175 183.4 L1176.6 183.7 L1178.2 184.7 L1179.9 184.2 L1181.7 183.2 L1183.4 183.3 L1185.2 182.1 L1187 181.8 L1188.7 182.2 L1190.5 182.6 L1192.2 181.8 L1193.9 181.6 L1195.6 181.3 L1197.2 180.5 L1198.8 178.2 L1200.2 180.4 L1201.6 180.7 L1202.9 179.4 L1204.1 182.4 L1205.2 180 L1206.2 179.4 L1207 179.1" stroke="#0070C0" stroke-width="7"/>
<path d="M630 104.3 L630.9 106.9 L631.9 103.8 L633 104.1 L634.4 106.6 L635.8 101.6 L637.3 104.6 L639 103.5 L640.7 103 L642.5 104.5 L644.3 106.5 L646.2 104.2 L648.1 103.5 L650 103.8 L651.3 104.9 L652.6 103.6 L654.1 106 L655.5 102.1 L657 105 L658.6 105.1 L660.2 101.3 L661.8 103.6 L663.4 103.4 L665 104.8 L666.6 104.7 L668.2 105.1 L669.8 102.1 L671.4 106.4 L673 104 L674.5 105.1 L675.9 104.5 L677.4 104.7 L678.7 104.4 L680 105.9 L681.9 103.3 L683.7 105.8 L685.5 105.7 L687.2 105.8 L688.9 106.2 L690.5 108.8 L692 106.2 L693.5 105.9 L694.9 107 L696.3 104.5 L697.6 105.9 L698.8 106.8 L700 107.4 L702.3 108.1 L704.1 110.4 L705.8 108.2 L707.2 109.8 L708.6 109.7 L710 109.8 L711.7 111.5 L713.3 111.9 L714.8 113 L716.4 112.6 L718 113.5 L719.1 114.1 L720.2 115.5 L721.3 115.8 L722.4 117.8 L723.6 119.1 L724.7 119.2 L725.9 119.8 L727 121.2 L727.7 122.3 L728.5 124.1 L729.2 124.9 L730 129.2 L730.7 129.1 L731.4 129.1 L732.2 131.7 L732.9 132.1 L733.7 134.3 L734.4 135 L735.2 136.4 L736 135.8 L736.7 138.9 L737.5 141.4 L738.3 142.9 L739 144.2 L739.8 144.4 L740.6 144 L741.4 150.4 L742.2 151.5 L743 149.4 L743.7 152.5 L744.5 154 L745.3 154 L746 155.4 L746.8 156.8 L747.5 160.2 L748.3 160.6 L749 161.4 L749.8 164.7 L750.5 164.2 L751.2 164.6 L752 167.1 L752.7 166.7 L753.5 166.7 L754.2 170.5 L755 174.2 L755.7 171.9 L756.4 175.6 L757.2 175.5 L757.9 178.6 L758.7 179.3 L759.5 179.8 L760.2 181.6 L761 184.1 L761.8 186.3 L762.5 186.5 L763.2 188.5 L763.8 190.3 L764.4 190.6 L765 191.6 L765.9 193.3 L766.6 192.9 L767.2 194.5 L767.8 198.1 L768.3 199.8 L768.8 198.1 L769.4 200.6 L770 203.8 L770.5 204.2 L771 205.9 L771.5 206.2 L772 209.2 L772.5 209.1 L773.1 210.3 L773.6 213 L774.1 214.4 L774.6 217.9 L775.1 217.5 L775.6 217.8 L776 220.3 L776.4 222.4 L776.7 223 L777 223.5 L777.3 225.6 L777.6 227.6 L777.9 226.1 L778.2 232 L778.4 231.2 L778.8 232.5 L779.1 234.7 L779.5 238.4 L780 237.2 L780.3 239 L780.6 241 L781 242.2 L781.3 243.2 L781.7 245.5 L782.1 243.4 L782.5 248.2 L782.9 248.3 L783.3 249.9 L783.8 252.2 L784.2 253.2 L784.6 258.7 L785.1 257.3 L785.5 259.7 L785.9 260.8 L786.4 262.5 L786.8 260.7 L787.2 264.3 L787.6 266.4 L788 267.2 L788.4 268.5 L788.8 268.9 L789.2 272 L789.6 273.4 L789.9 277.1 L790.3 275.5 L790.7 277.8 L791.1 280.2 L791.5 281.8 L791.9 282.1 L792.2 284.5 L792.6 284.9 L793 286.3 L793.4 288 L793.8 290.5 L794.2 291.2 L794.5 294.2 L794.9 294.7 L795.3 296.1 L795.7 298 L796.2 299.9 L796.7 302.6 L797.2 301.1 L797.7 301.5 L798.2 304.2 L798.7 306.7 L799.1 308.6 L799.6 310.4 L800.1 312 L800.6 313.2 L801.1 313.6 L801.6 317.7 L802.1 317 L802.6 317.8 L803.1 319.6 L803.6 322.9 L804.2 323.1 L804.7 324.7 L805.3 325.3 L805.8 327.4 L806.4 328.5 L806.9 330.9 L807.5 332 L808.1 332.9 L808.6 334.6 L809.2 336 L809.7 338 L810.3 338.3 L810.8 340.3 L811.4 341.3 L812.5 344.1 L813.6 344.2 L814.8 346.4 L815.9 346.2 L817 347.2 L818.2 348.7 L819.3 346.8 L820.9 349.9 L822.6 351.4 L824.2 351.8 L825.7 351.1 L827.2 350.3 L828.6 349.8 L829.8 347.4 L831 351 L832.2 346.9 L833.2 345 L833.5 344.9 L833.7 340.4 L833.9 340.6 L834.1 337.6 L834.3 338.4 L834.4 334.5 L834.6 334.8 L834.7 334.3 L834.9 333 L835.1 328.5 L835.2 327.1 L835.4 327.8 L835.6 324.6 L835.9 322.4 L836.1 319.9 L836.4 320.1 L836.7 318.9 L837.1 320.1 L838.4 317.5 L840 314.3 L841.7 313.5 L843.5 314.9 L845.3 318 L847 314 L848.4 314.1 L849.8 315.3 L851.3 315.5 L852.7 318 L854.1 316.5 L855.6 317 L857 319.1 L858.2 319.1 L859.5 319.7 L860.8 319.9 L862 319.5 L863.2 319.2 L864.5 321.7 L865.8 323.6 L867 326.3 L867.3 328.3 L867.6 328.8 L867.9 330.7 L868.2 332 L868.5 330.8 L868.8 333.6 L869.1 334.5 L869.4 337.5 L869.6 336.1 L869.9 338.4 L870.2 342.5 L870.5 343.5 L870.8 347.1 L871.1 347.2 L871.4 348.9 L871.6 350.5 L871.9 352.1 L872.2 354.1 L872.5 355.5 L872.8 358.5 L873.1 357.7 L873.4 361.4 L873.7 362 L874 363.5 L874.3 365.2 L874.7 368.3 L875 369.2 L875.3 370.1 L875.6 373.4 L876 373 L876.3 375.1 L876.6 375.5 L877 376.2 L877.7 380 L878.5 381.9 L879.2 383.2 L879.9 383.5 L880.7 385.9 L881.4 389.5 L882.2 389 L883 390.4 L883.8 390.1 L884.7 393.2 L885.5 391.9 L886.4 394.3 L887.3 394.3 L888.3 394.2 L889.3 396.6 L890.3 396.7 L891.6 397.8 L892.9 399.4 L894.3 398.4 L895.8 401.1 L897.4 401.4 L899 402.6 L900.6 402.9 L902.1 404.7 L903.7 404.8 L905.2 405.1 L906.6 405.1 L908 406 L909.3 406.9 L910.4 405.7 L912.2 407.9 L913.7 407.5 L915 406.8 L916.2 405.9 L917.3 404.8 L918.4 403.9 L919.4 402.4 L920.4 399.5 L920.8 398.3 L921.1 398.2 L921.5 395.9 L921.8 393.1 L922.1 393.5 L922.4 392.1 L922.7 390.3 L922.9 389.4 L923.2 385.3 L923.5 384.9 L923.8 382.8 L924 381.4 L924.3 380.8 L924.6 379.2 L924.8 376.2 L925.1 374.8 L925.4 372.4 L925.7 370.4 L926 369.6 L926.4 369 L926.7 367.8 L927.1 366.1 L928.1 364.7 L929.2 362.7 L930.3 362.1 L931.5 359.8 L932.7 360.5 L934.1 359.5 L935.5 358.7 L937.1 358 L938.4 361.3 L939.8 360.1 L941.3 358.5 L943 360.1 L944.6 358.9 L946.3 358.2 L947.9 358.4 L949.5 359.7 L951.1 360.5 L952.5 358.8 L953.8 362.6 L954.9 362.8 L955.9 362.7 L956.8 363.3 L957.7 364 L958.5 367.5 L959.3 367.3 L960 367.2 L960.8 369.2 L961.5 370 L962.3 374.3 L963.1 375.3 L963.9 377.5 L964.2 378.8 L964.5 382.1 L964.9 378.3 L965.2 382.6 L965.5 382.6 L965.8 386.4 L966.1 386.6 L966.4 387.5 L966.7 388.4 L967 390.7 L967.3 393.2 L967.6 394 L967.9 393.3 L968.2 398.4 L968.5 402 L968.8 401.2 L969.2 402.6 L969.5 404 L969.8 405.8 L970.1 408.1 L970.4 408.8 L970.8 411.1 L971.1 414 L971.4 414.4 L971.8 415.3 L972.1 417.4 L972.4 419.4 L972.8 419.6 L973.2 421.2 L973.5 422.3 L973.9 423.3 L974.9 425.5 L975.9 428 L976.9 429.8 L977.9 430.9 L979 433 L980.1 431.5 L981.2 432.4 L982.3 435 L983.5 433.4 L984.7 437.6 L986 435.8 L987.3 436.8 L988.7 437.4 L990.3 438.9 L991.9 438.9 L993.6 437.4 L995.3 440.9 L997.1 440.7 L998.8 440.6 L1000.5 441.7 L1002.1 441.9 L1003.5 440.5 L1004.9 440.4 L1006 439.4 L1006.7 439.6 L1007.3 436 L1007.9 436.8 L1008.3 436.2 L1008.8 433.3 L1009.1 433.4 L1009.5 431.7 L1009.8 428.2 L1010.1 428.1 L1010.3 424.9 L1010.6 423.5 L1010.8 420.7 L1011.1 419.6 L1011.3 418.4 L1011.6 418.8 L1011.9 416.4 L1012.3 415.2 L1012.9 411.6 L1013.4 409.6 L1013.9 409.5 L1014.4 407.4 L1014.8 405.1 L1015.4 403.9 L1015.9 402.4 L1016.5 401.8 L1017.1 400.7 L1017.9 400.2 L1018.7 398.4 L1019.9 398 L1021.2 395.3 L1022.6 395.6 L1024.1 394.6 L1025.7 394.5 L1027.2 392.9 L1028.8 393.1 L1030.2 391.5 L1031.5 392.6 L1033.3 392.2 L1035 393.2 L1036.7 391.7 L1038.2 393.4 L1039.6 392.9 L1041 396.9 L1041.8 397.9 L1042.6 394.6 L1043.4 398.4 L1044.1 398.4 L1044.7 400.2 L1045.4 402 L1046 403.1 L1046.7 406.5 L1047.4 405.3 L1047.7 409.6 L1048 410.1 L1048.3 413.1 L1048.5 411.9 L1048.8 413.8 L1049 414.9 L1049.3 417.1 L1049.6 421 L1049.8 423.1 L1050.1 423.3 L1050.3 423.1 L1050.6 426 L1050.9 428.2 L1051.2 429.9 L1051.5 430.9 L1051.8 431.9 L1052.2 434.2 L1052.5 435.6 L1052.9 437.1 L1053.4 438.5 L1053.8 438.8 L1054.4 441.4 L1055 443.8 L1055.6 444.4 L1056.3 446 L1057 450.4 L1057.7 449.3 L1058.5 449.8 L1059.2 451.1 L1060 453.6 L1060.8 454.9 L1061.6 456.6 L1062.4 455.6 L1063.2 458.1 L1064.1 458.8 L1064.9 459.5 L1065.8 461.7 L1066.6 461 L1067.9 463.2 L1069.3 463.6 L1070.8 464.9 L1072.3 468 L1073.8 466.2 L1075.3 464.8 L1076.8 467.3 L1078.3 467.7 L1079.8 467.3 L1081.2 467.6 L1082.5 470.6 L1084.3 469.4 L1086.1 469.6 L1087.8 470.6 L1089.5 470.5 L1091.1 469.4 L1092.6 469.7 L1094 468.6 L1095.3 466.5 L1095.8 465.4 L1096.3 465.8 L1096.7 464.2 L1097.1 461.7 L1097.4 461.5 L1097.8 458.5 L1098.1 458.2 L1098.4 455.2 L1098.6 452.7 L1098.9 454.2 L1099.2 450.1 L1099.5 449.5 L1099.8 448.4 L1100.1 445.6 L1100.4 443.5 L1100.8 442 L1101.2 443.2 L1101.6 440.2 L1102.3 437.5 L1103.1 436.9 L1103.9 434.5 L1104.7 433.9 L1105.6 431.5 L1106.4 431 L1107.3 426.8 L1108.3 429.6 L1109.2 428 L1110.2 426.5 L1111.2 427.8 L1112.7 424.1 L1114.3 423.5 L1115.9 423.4 L1117.6 424 L1119.3 423.1 L1121 422.5 L1122.5 423.7 L1124 423.6 L1125.4 423.3 L1126.7 425.4 L1127.9 426.1 L1129.2 426.7 L1130.3 425.7 L1131.4 429.4 L1132.5 429.7 L1133.5 432 L1134 433.8 L1134.4 432.2 L1134.8 434.5 L1135.2 437.2 L1135.6 438.5 L1136 439.9 L1136.3 441.5 L1136.7 443.8 L1137 444.3 L1137.4 448.5 L1137.8 446 L1138.1 447.6 L1138.5 451.7 L1139 452.8 L1139.4 451.3 L1139.9 455.5 L1140.4 457.8 L1140.9 457.8 L1141.4 460.5 L1141.9 460.8 L1142.5 462.3 L1143 465 L1143.5 466.1 L1144.1 469.5 L1144.7 470 L1145.3 469.9 L1145.9 472.6 L1146.6 472.5 L1147.3 474.4 L1148 475.3 L1148.7 477.1 L1149.5 478.2 L1150.6 478.3 L1151.8 480.3 L1153 481.2 L1154.3 482.5 L1155.7 482.6 L1157 484.1 L1158.4 484.4 L1159.9 484.3 L1161.3 486.5 L1162.7 486.9 L1164.1 487.4 L1165.4 487.5 L1167 488.5 L1168.7 489.9 L1170.4 490.4 L1172.1 490.8 L1173.8 490.4 L1175.5 490.5 L1177.1 492.1 L1178.6 492.2 L1180.1 488.9 L1181.4 492.2 L1182.4 490.6 L1183.4 488.6 L1184.3 487.5 L1185.2 488.4 L1186 485.5 L1186.8 484.1 L1187.6 483.2 L1188.3 481.9 L1189 479.8 L1189.7 478.3 L1190.3 475.8 L1191 475.4 L1191.6 473.1 L1192.1 472.2 L1192.6 470.3 L1193.1 468 L1193.5 467.3 L1193.9 465.4 L1194.4 462.9 L1194.8 462.1 L1195.2 460.7 L1195.7 458.3 L1196.2 458.1 L1196.7 456.1 L1197.3 456.5 L1198.6 453.7 L1200.1 452.6 L1201.7 450.5 L1203.3 452.2 L1204.8 452.2 L1206.1 450.3 L1207 450.4" stroke="#ff0000" stroke-width="8"/>
<path d="M631 111 C650 112 680 113 712 118" stroke="#ff0000" stroke-width="8"/>
<path d="M630 110.8 L630.9 105.9 L632 111 L633.3 110.7 L634.8 109.9 L636.5 111 L638.2 114.2 L640 112.7 L641.3 113.1 L642.8 112.2 L644.3 114.6 L645.9 114.5 L647.5 112.3 L649.1 117.3 L650.7 117.8 L652.2 121.9 L653.7 118.4 L655 118.5 L656.6 118.7 L657.8 121.4 L658.8 120.7 L659.9 122.8 L661.2 120.7 L662.8 123.2 L665 121.5 L666.2 123 L667.5 124.4 L669 122.2 L670.5 120.5 L672.2 123.1 L673.9 125.4 L675.7 124.1 L677.5 123 L679.3 123.3 L681.1 123.7 L682.8 126 L684.5 123.8 L686 125.4 L687.5 124.5 L688.8 129 L690 127.6 L692.1 127.6 L693.7 126.8 L694.9 128.4 L695.9 124.8 L697 129.3 L698.3 130 L700 130.7 L701 130.1 L702 130.5 L703.1 132.5 L704.2 132 L705.4 134.9 L706.6 133.7 L707.9 134.7 L709.1 136.3 L710.4 139.2 L711.7 137.9 L713 138.8 L714.3 139.8 L715.5 144.8 L716.8 143.5 L718 145.2 L719 145.7 L719.9 146.8 L720.9 144.6 L721.9 149.4 L722.9 150.4 L723.9 150.7 L724.9 154.8 L725.9 154.7 L726.9 154.8 L727.9 158.5 L728.8 158.1 L729.8 161 L730.8 161.1 L731.7 163.6 L732.6 168.4 L733.5 166.4 L734.4 165.2 L735.2 166.9 L736 168.9 L737.4 167.8 L738.8 170.2 L740 170.3 L741.2 172.5 L742.4 173.1 L743.5 176.2 L744.6 176.1 L745.7 175.4 L746.8 177.1 L748 178.4 L749.5 175.2 L751.1 178.7 L752.8 181 L754.4 179.4 L755.9 179.7 L757.4 179.4 L758.8 180.1 L760 175.6 L761.3 182.4 L762.4 178 L763.3 177.4 L764.1 174.7 L765 172.6 L766 172.1 L767.1 170.3 L768.2 168.3 L769.3 167.6 L770.5 166.7 L771.7 168.5 L773 165.8 L774.4 164.9 L775.9 163 L777.4 165.3 L779 163.1 L780.5 163.1 L782 163.5 L783.4 165.4 L784.7 166.4 L786.1 162.2 L787.4 170.5 L788.7 168.5 L790 170.9 L790.9 172.1 L791.7 173.7 L792.6 173.2 L793.4 175.7 L794.3 176.8 L795.2 179 L796.1 179.4 L797 180 L798 182.3 L798.8 186.5 L799.6 183.7 L800.5 187.3 L801.3 186.5 L802.2 189.4 L803.1 189.4 L804 188.2 L804.9 196.5 L805.9 192.3 L806.9 191.5 L808 194.9 L809.4 197.8 L811 196 L812.6 198.3 L814.3 196.5 L816 194.3 L817.6 196.4 L819.2 196.1 L820.7 196.3 L822 197.9 L823.7 197.2 L824.9 194.5 L826 198.9 L827.5 195.4 L830 193.8 L831.1 195.6 L832.4 195.5 L833.7 192.9 L835.2 194 L836.7 195.1 L838.4 193.3 L840 191.3 L841.7 192.1 L843.4 190.5 L845.1 190.2 L846.8 191 L848.5 189.5 L850.1 191 L851.6 186.3 L853 192.6 L854.4 190.4 L855.8 189 L857.2 190.3 L858.5 192.6 L859.8 193.5 L861.1 189.3 L862.3 196.1 L863.5 200.5 L864.8 194.8 L866 197.3 L867.2 198.9 L868.5 199.6 L869.7 201.6 L871 202.2 L872.2 203 L873.4 202.3 L874.6 205.4 L875.8 209.5 L877 207.7 L878.2 209.8 L879.4 210 L880.6 209.1 L881.8 209.5 L883 212.7 L884.2 212.5 L885.4 213.9 L886.6 215.9 L887.8 215.9 L889 217.8 L890.4 217 L891.7 216 L893 220 L894.3 217.9 L895.6 221.4 L896.9 220.5 L898.2 222.3 L899.6 225.2 L900.9 225.5 L902.4 222.6 L903.8 226.8 L905.4 222.8 L907 224 L908.3 223.1 L909.6 224.6 L911 223.8 L912.4 223.7 L913.9 222.6 L915.3 220.3 L916.8 219.2 L918.4 221 L919.9 220.7 L921.4 217.7 L923 219.2 L924.5 218.7 L926 215.4 L927.6 215.7 L929.1 215.7 L930.5 217.3 L932 217.1 L933.4 219 L934.9 213 L936.4 216.1 L937.8 219.8 L939.3 218.6 L940.8 220.2 L942.2 222.1 L943.7 219.7 L945.1 220.9 L946.6 221.1 L948 222.9 L949.4 222.3 L950.8 224.5 L952.1 223.9 L953.4 227 L954.7 226.5 L956 223.6 L957.5 231.7 L958.9 230.2 L960.2 226.2 L961.5 232.7 L962.8 233.1 L964 231.3 L965.2 232.3 L966.4 234.1 L967.7 234.5 L968.9 238.4 L970.2 235.6 L971.6 237.1 L973 240.4 L974.5 239.2 L975.9 241.2 L977.3 239.3 L978.8 240.2 L980.3 239.3 L981.8 240.8 L983.4 242.4 L985 240.8 L986.6 242 L988.2 241.1 L989.8 243.6 L991.4 243.6 L993 242.9 L994.5 241.8 L996.1 246.3 L997.6 241.9 L999 244.4 L1000.6 243 L1002.2 243.3 L1003.8 242 L1005.4 246.7 L1007 244 L1008.6 242.8 L1010.1 241.5 L1011.6 240.5 L1013.1 241.2 L1014.5 243.3 L1016 241.9 L1017.3 239.7 L1018.7 242.5 L1020 241.7 L1021.7 244.1 L1023.4 239.6 L1024.9 241.6 L1026.4 240.5 L1027.8 242.5 L1029.2 239.9 L1030.6 237.7 L1032 246.1 L1033.5 243 L1035 241.2 L1036.4 242.6 L1037.7 243.4 L1039.1 245.2 L1040.4 243.6 L1041.8 245.3 L1043.1 245.7 L1044.6 247.6 L1046 245.9 L1047.6 248 L1049.2 244.6 L1051 248.5 L1052.2 253.9 L1053.4 250 L1054.7 249.7 L1056 251.9 L1057.3 251.7 L1058.6 254.8 L1060 253.3 L1061.4 251.9 L1062.8 254.5 L1064.3 253.9 L1065.8 256.2 L1067.3 256.4 L1068.8 256.8 L1070.3 259.3 L1071.9 262.3 L1073.4 257.7 L1075 257.2 L1076.4 257.6 L1077.8 258.7 L1079.3 259.2 L1080.9 258.8 L1082.5 258.4 L1084.1 257 L1085.7 258.9 L1087.4 257.3 L1089 257.2 L1090.7 259.9 L1092.3 261.1 L1093.9 260 L1095.5 255.2 L1097.1 256.9 L1098.6 257.8 L1100 255.5 L1101.4 256.3 L1102.7 251.9 L1103.9 256.5 L1105 256.6 L1107.4 258.4 L1109.3 255.2 L1110.9 255.7 L1112.2 255.9 L1113.5 253.7 L1114.8 250.4 L1116.3 251.1 L1118 254.1 L1119.2 252.5 L1120.4 252.9 L1121.6 256.5 L1122.8 254.7 L1124 255.7 L1125.3 255.8 L1126.6 260.5 L1128 259.2 L1129.4 259.4 L1130.9 260.5 L1132.5 261.7 L1134.2 263.8 L1136 263.1 L1137.2 263.8 L1138.5 265.2 L1139.9 263.2 L1141.3 264.3 L1142.8 265.6 L1144.3 265.7 L1145.9 265.2 L1147.4 266.4 L1149 267.5 L1150.6 265.6 L1152.2 266.6 L1153.9 266.7 L1155.5 265.6 L1157.1 267.3 L1158.6 266.2 L1160.2 269.9 L1161.7 267.7 L1163.2 267.4 L1164.6 267.8 L1166 266.8 L1167.7 267 L1169.3 267.4 L1171 268.2 L1172.6 266.7 L1174.2 268.8 L1175.8 269.7 L1177.3 264.7 L1178.9 265.4 L1180.4 266.6 L1181.8 265 L1183.3 265.6 L1184.7 265.1 L1186.1 265.1 L1187.4 266.5 L1188.7 264.4 L1190 263.8 L1192 266 L1194 264.8 L1195.9 261.6 L1197.7 265.7 L1199.5 266 L1201.1 266.2 L1202.6 265.9 L1204 264.1 L1205.1 265.3 L1206 266.6" stroke="#ff0000" stroke-width="11"/>
</g>
<g fill="#ff0000">
<circle cx="731.7" cy="125.1" r="4.6"/>
<circle cx="745" cy="136.8" r="4.6"/>
<circle cx="759.4" cy="147.8" r="4.6"/>
<circle cx="771" cy="170" r="4.6"/>
<circle cx="781.8" cy="193.6" r="4.6"/>
<circle cx="786.8" cy="210.3" r="4.6"/>
<circle cx="793.5" cy="227" r="4.6"/>
<circle cx="799.5" cy="243.7" r="4.6"/>
<circle cx="813.6" cy="253" r="4.6"/>
<circle cx="826.3" cy="243" r="4.6"/>
<circle cx="829.6" cy="225.3" r="4.6"/>
<circle cx="834.6" cy="208.6" r="4.6"/>
<circle cx="851.3" cy="208" r="4.6"/>
<circle cx="865.4" cy="218.6" r="4.6"/>
<circle cx="869.4" cy="236.4" r="4.6"/>
<circle cx="872" cy="253.7" r="4.6"/>
<circle cx="877" cy="270.5" r="4.6"/>
<circle cx="889.5" cy="283.2" r="4.6"/>
<circle cx="906.2" cy="285.5" r="4.6"/>
<circle cx="916.5" cy="273.1" r="4.6"/>
<circle cx="919.2" cy="255.4" r="4.6"/>
<circle cx="923.2" cy="237.7" r="4.6"/>
<circle cx="940" cy="234" r="4.6"/>
<circle cx="953.7" cy="244.3" r="4.6"/>
<circle cx="957.8" cy="261.3" r="4.6"/>
<circle cx="959.7" cy="278.5" r="4.6"/>
<circle cx="966.8" cy="295" r="4.6"/>
<circle cx="981" cy="305.9" r="4.6"/>
<circle cx="998.3" cy="305.1" r="4.6"/>
<circle cx="1006.5" cy="290" r="4.6"/>
<circle cx="1009.5" cy="272.8" r="4.6"/>
<circle cx="1015" cy="256.1" r="4.6"/>
<circle cx="1031.1" cy="253.3" r="4.6"/>
<circle cx="1043.4" cy="264.8" r="4.6"/>
<circle cx="1047" cy="282" r="4.6"/>
<circle cx="1050.3" cy="299.6" r="4.6"/>
<circle cx="1060.4" cy="314.1" r="4.6"/>
<circle cx="1076.3" cy="320.1" r="4.6"/>
<circle cx="1093.3" cy="315.5" r="4.6"/>
<circle cx="1096.8" cy="298.5" r="4.6"/>
<circle cx="1100.1" cy="281.3" r="4.6"/>
<circle cx="1109.7" cy="267" r="4.6"/>
<circle cx="1126.6" cy="270.9" r="4.6"/>
<circle cx="1134.3" cy="285.6" r="4.6"/>
<circle cx="1137.6" cy="303.4" r="4.6"/>
<circle cx="1143.3" cy="320.1" r="4.6"/>
<circle cx="1157.6" cy="330.5" r="4.6"/>
<circle cx="1175" cy="330.9" r="4.6"/>
<circle cx="1184.6" cy="318" r="4.6"/>
<circle cx="1188" cy="300.4" r="4.6"/>
<circle cx="1193.3" cy="283.8" r="4.6"/>
</g>
<path d="M629.9 126.3 L722.6 288 L760 352.3 L805 567.6 L849.5 352.3 L894 567.6 L938.5 352.3 L983 567.6 L1027.5 352.3 L1072 567.6 L1116.5 352.3 L1161 567.6 L1205.5 352.3" fill="none" stroke="#ff0000" stroke-width="4" stroke-dasharray="16 10.5" stroke-linejoin="miter"/>
<g stroke="#ff0000" stroke-width="4.6" stroke-dasharray="16 10.6" fill="none">
<path d="M638 74V196"/>
<path d="M723.3 67.5V320"/>
<path d="M765.5 68.3V420.6"/>
<path d="M806.3 74.4V567.6"/>
<path d="M897 74.7V567.6"/>
<path d="M985.8 74.3V567.6"/>
<path d="M1075.3 75.5V567.6"/>
<path d="M1121 74.9V567.6"/>
</g>
<g fill="#f20000" font-size="27.5">
<text transform="translate(643.5,74) rotate(-46)">OCV</text>
<text transform="translate(711.4,75.9) rotate(-46)">2.3V</text>
<text transform="translate(755.5,77.6) rotate(-46)">2V/1<tspan font-size="19.5" dy="-10.5">st</tspan></text>
<text transform="translate(797.9,72.4) rotate(-46)">1V/1<tspan font-size="19.5" dy="-10.5">st</tspan></text>
<text transform="translate(880,72.4) rotate(-46)">1V/2<tspan font-size="19.5" dy="-10.5">nd</tspan></text>
<text transform="translate(963.7,73.7) rotate(-46)">1V/3<tspan font-size="19.5" dy="-10.5">d</tspan></text>
<text transform="translate(1056.4,73.7) rotate(-46)">1V/4<tspan font-size="19.5" dy="-10.5">th</tspan></text>
<text transform="translate(1101.5,74.9) rotate(-46)">2V/4<tspan font-size="19.5" dy="-10.5">th</tspan></text>
</g>
<text x="1197" y="114.5" font-size="26.5"><tspan font-style="italic">n</tspan>=3</text>
<text x="1197" y="242.8" font-size="24.5" fill="#f20000"><tspan font-style="italic">n</tspan>=7</text>
<text x="1209.5" y="442" font-size="25.3" fill="#f20000"><tspan font-style="italic">n</tspan>=7</text>
<text x="1215" y="529" font-size="26.5"><tspan font-style="italic">n</tspan>=3</text>
<text x="1194" y="319.5" font-size="28.5" fill="#f20000"><tspan font-style="italic">F</tspan><tspan font-size="20.4" dy="8.5">theo</tspan></text>
</svg></body></html>
